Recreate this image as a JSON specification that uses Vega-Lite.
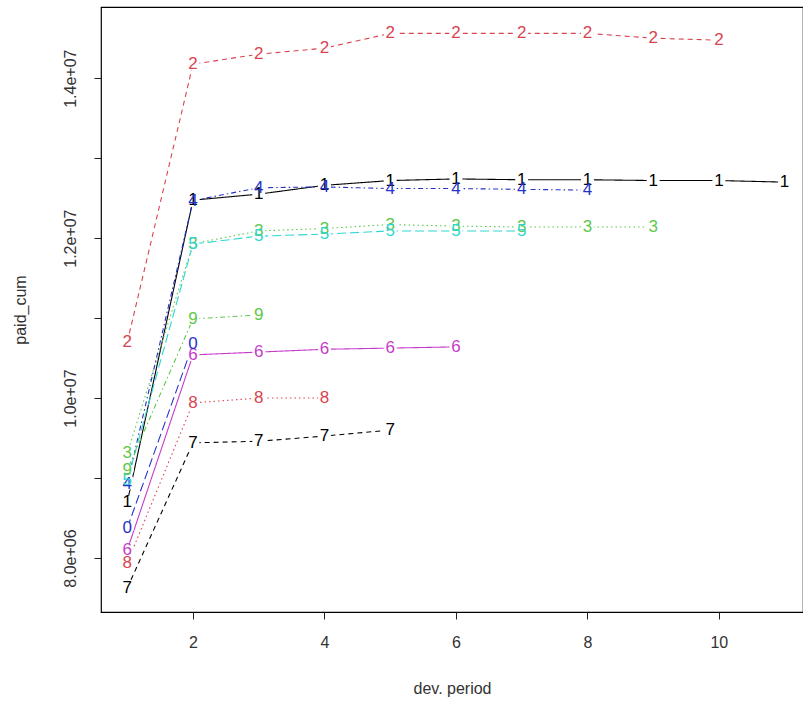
{
  "$schema": "https://vega.github.io/schema/vega-lite/v6.json",
  "width": 702,
  "height": 605,
  "autosize": {"type": "none"},
  "padding": {"left": 101, "top": 7, "right": 0, "bottom": 96},
  "background": "white",
  "config": {
    "view": {"stroke": "black", "strokeWidth": 1.2}
  },
  "data": {
    "values": [
      {"s": "1", "x": 1, "y": 8700000}, {"s": "1", "x": 2, "y": 12475000}, {"s": "1", "x": 3, "y": 12550000}, {"s": "1", "x": 4, "y": 12660000}, {"s": "1", "x": 5, "y": 12720000}, {"s": "1", "x": 6, "y": 12740000}, {"s": "1", "x": 7, "y": 12730000}, {"s": "1", "x": 8, "y": 12730000}, {"s": "1", "x": 9, "y": 12720000}, {"s": "1", "x": 10, "y": 12720000}, {"s": "1", "x": 11, "y": 12700000},
      {"s": "2", "x": 1, "y": 10700000}, {"s": "2", "x": 2, "y": 14175000}, {"s": "2", "x": 3, "y": 14300000}, {"s": "2", "x": 4, "y": 14375000}, {"s": "2", "x": 5, "y": 14560000}, {"s": "2", "x": 6, "y": 14560000}, {"s": "2", "x": 7, "y": 14560000}, {"s": "2", "x": 8, "y": 14560000}, {"s": "2", "x": 9, "y": 14500000}, {"s": "2", "x": 10, "y": 14475000},
      {"s": "3", "x": 1, "y": 9310000}, {"s": "3", "x": 2, "y": 11930000}, {"s": "3", "x": 3, "y": 12090000}, {"s": "3", "x": 4, "y": 12120000}, {"s": "3", "x": 5, "y": 12170000}, {"s": "3", "x": 6, "y": 12150000}, {"s": "3", "x": 7, "y": 12140000}, {"s": "3", "x": 8, "y": 12140000}, {"s": "3", "x": 9, "y": 12140000},
      {"s": "4", "x": 1, "y": 8930000}, {"s": "4", "x": 2, "y": 12470000}, {"s": "4", "x": 3, "y": 12630000}, {"s": "4", "x": 4, "y": 12640000}, {"s": "4", "x": 5, "y": 12620000}, {"s": "4", "x": 6, "y": 12620000}, {"s": "4", "x": 7, "y": 12610000}, {"s": "4", "x": 8, "y": 12600000},
      {"s": "5", "x": 1, "y": 8970000}, {"s": "5", "x": 2, "y": 11925000}, {"s": "5", "x": 3, "y": 12025000}, {"s": "5", "x": 4, "y": 12050000}, {"s": "5", "x": 5, "y": 12090000}, {"s": "5", "x": 6, "y": 12090000}, {"s": "5", "x": 7, "y": 12090000},
      {"s": "6", "x": 1, "y": 8100000}, {"s": "6", "x": 2, "y": 10540000}, {"s": "6", "x": 3, "y": 10575000}, {"s": "6", "x": 4, "y": 10610000}, {"s": "6", "x": 5, "y": 10625000}, {"s": "6", "x": 6, "y": 10640000},
      {"s": "7", "x": 1, "y": 7625000}, {"s": "7", "x": 2, "y": 9440000}, {"s": "7", "x": 3, "y": 9460000}, {"s": "7", "x": 4, "y": 9525000}, {"s": "7", "x": 5, "y": 9600000},
      {"s": "8", "x": 1, "y": 7940000}, {"s": "8", "x": 2, "y": 9940000}, {"s": "8", "x": 3, "y": 10000000}, {"s": "8", "x": 4, "y": 10000000},
      {"s": "9", "x": 1, "y": 9100000}, {"s": "9", "x": 2, "y": 10990000}, {"s": "9", "x": 3, "y": 11040000},
      {"s": "0", "x": 1, "y": 8375000}, {"s": "0", "x": 2, "y": 10675000}
    ]
  },
  "encoding": {
    "x": {"field": "x", "type": "quantitative", "scale": {"domain": [0.6, 11.28], "nice": false, "zero": false},
      "axis": {"values": [2, 4, 6, 8, 10], "title": "dev. period", "labelPadding": 15, "titlePadding": 30,
        "grid": false, "domain": false, "tickColor": "#222", "tickSize": 7, "labelColor": "#333", "titleColor": "#333",
        "labelFontSize": 16, "titleFontSize": 16, "titleFontWeight": "normal", "labelFont": "Liberation Sans", "titleFont": "Liberation Sans"}},
    "y": {"field": "y", "type": "quantitative", "scale": {"domain": [7325000, 14890000], "nice": false, "zero": false},
      "axis": {"values": [8000000, 9000000, 10000000, 11000000, 12000000, 13000000, 14000000], "title": "paid_cum",
        "labelExpr": "datum.value % 2000000 == 0 ? replace(format(datum.value, '.1e'), 'e+', 'e+0') : ''",
        "labelAngle": -90, "labelAlign": "center", "labelBaseline": "bottom", "labelPadding": 16, "titlePadding": 34,
        "grid": false, "domain": false, "tickColor": "#222", "tickSize": 7, "labelColor": "#333", "titleColor": "#333",
        "labelFontSize": 16, "titleFontSize": 16, "titleFontWeight": "normal", "labelFont": "Liberation Sans", "titleFont": "Liberation Sans"}},
    "color": {"field": "s", "type": "nominal", "legend": null,
      "scale": {"domain": ["1", "2", "3", "4", "5", "6", "7", "8", "9", "0"],
        "range": ["#000000", "#D9434F", "#5EC84C", "#2533C8", "#2ED6D0", "#C63CC8", "#000000", "#D9434F", "#5EC84C", "#2533C8"]}}
  },
  "layer": [
    {
      "mark": {"type": "line", "strokeWidth": 1.1},
      "encoding": {
        "detail": {"field": "s"},
        "strokeDash": {"field": "s", "type": "nominal", "legend": null,
          "scale": {"domain": ["1", "2", "3", "4", "5", "6", "7", "8", "9", "0"],
            "range": [[1, 0], [5, 4], [1.5, 3], [1.5, 3, 5, 3], [9, 4], [1, 0], [5, 4], [1.5, 3], [1.5, 3, 5, 3], [9, 4]]}}
      }
    },
    {
      "mark": {"type": "point", "shape": "circle", "filled": true, "fill": "white", "opacity": 1, "strokeWidth": 0, "size": 170},
      "encoding": {"color": {"value": "white"}}
    },
    {
      "mark": {"type": "text", "fontSize": 17, "baseline": "middle", "align": "center", "font": "Liberation Sans"},
      "encoding": {"text": {"field": "s"}}
    }
  ]
}
